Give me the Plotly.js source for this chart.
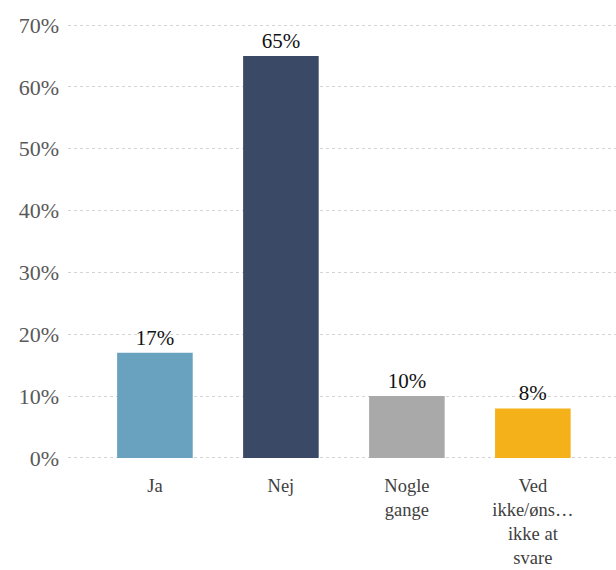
<!DOCTYPE html>
<html>
<head>
<meta charset="utf-8">
<script src="https://cdn.plot.ly/plotly-3.0.1.min.js"></script>
<style>html,body{margin:0;padding:0;background:#fff;}#chart{width:616px;height:570px;}</style>
</head>
<body>
<div id="chart"></div>
<script>
var categories = ["Ja", "Nej", "Nogle<br>gange", "Ved<br>ikke/øns…<br>ikke at<br>svare"];
var values = [0.17, 0.65, 0.10, 0.08];
var barColors = ["#68a2be", "#3a4a66", "#a9a9a9", "#f4b119"];
var yTickVals = [0, 0.1, 0.2, 0.3, 0.4, 0.5, 0.6, 0.7];
var yTickText = ["0%", "10%", "20%", "30%", "40%", "50%", "60%", "70%"];

var serif = "Liberation Serif";

var trace = {
  type: "bar",
  x: [0, 1, 2, 3],
  y: values,
  width: 0.6,
  marker: {color: barColors},
  texttemplate: "%{y:.0%}",
  textposition: "outside",
  cliponaxis: false,
  textfont: {family: serif, size: 21, color: "#111111"},
  hoverinfo: "none"
};

var layout = {
  width: 616, height: 570,
  margin: {l: 68, r: 0, t: 22, b: 109},
  paper_bgcolor: "#ffffff", plot_bgcolor: "#ffffff",
  showlegend: false,
  font: {family: serif, size: 20, color: "#404040"},
  xaxis: {
    range: [-0.69, 3.66],
    tickvals: [0, 1, 2, 3],
    ticktext: categories,
    showgrid: false, zeroline: false, showline: false,
    ticks: "",
    ticklabelstandoff: 11,
    tickfont: {family: serif, size: 18.5, color: "#404040"}
  },
  yaxis: {
    range: [-0.005, 0.705],
    tickvals: yTickVals,
    ticktext: yTickText,
    showgrid: true, gridcolor: "#d4d4d4", griddash: "dot", gridwidth: 1,
    zeroline: false, showline: false, ticks: "",
    ticklabelstandoff: 8,
    tickfont: {family: serif, size: 22, color: "#595959"}
  }
};

Plotly.newPlot("chart", [trace], layout, {displayModeBar: false, staticPlot: true});
</script>
</body>
</html>
